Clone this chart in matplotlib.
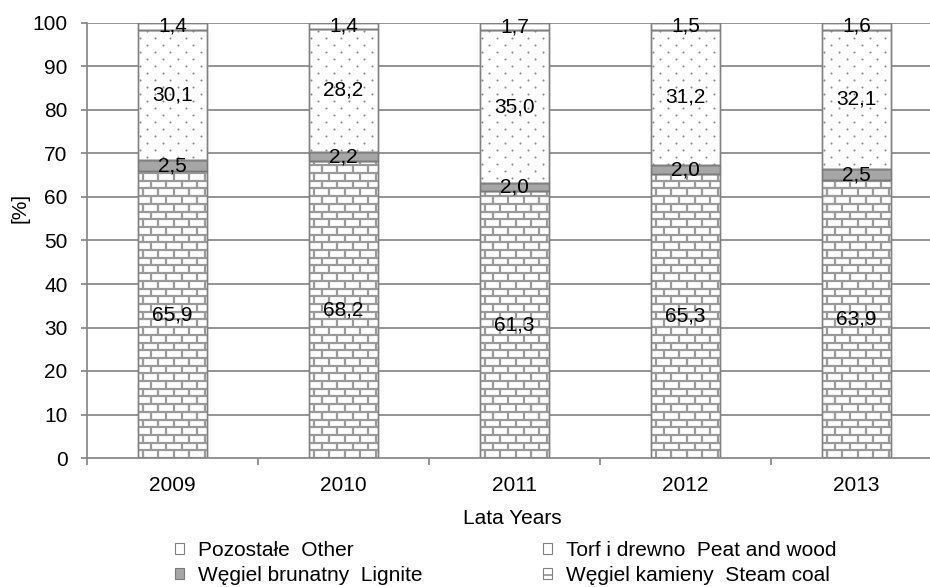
import numpy as np
import matplotlib
matplotlib.use("Agg")
import matplotlib.pyplot as plt
from matplotlib.collections import LineCollection
from matplotlib.patches import Patch

plt.rcParams['font.family'] = ['Liberation Sans', 'DejaVu Sans']

years = ["2009", "2010", "2011", "2012", "2013"]
steam_coal = [65.9, 68.2, 61.3, 65.3, 63.9]
lignite = [2.5, 2.2, 2.0, 2.0, 2.5]
peat_wood = [30.1, 28.2, 35.0, 31.2, 32.1]
other = [1.4, 1.4, 1.7, 1.5, 1.6]

labels = ["Pozostałe  Other", "Torf i drewno  Peat and wood",
          "Węgiel brunatny  Lignite", "Węgiel kamieny  Steam coal"]

FS = 15
W, H = 930, 587
fig = plt.figure(figsize=(W / 100, H / 100), dpi=100)
ax = fig.add_axes([87 / W, (H - 458) / H, 855 / W, 435 / H])
ax.set_xlim(-0.5, 4.5)
ax.set_ylim(0, 100)

grid_c = "#868686"
edge_c = "#808080"
bw = 0.4
x = np.arange(len(years))

# pixel-to-data scale for the fill patterns
px_x = 855 / 5.0
px_y = 435 / 100.0

for v in range(10, 101, 10):
    ax.axhline(v, color=grid_c, lw=1.25, zorder=0)


def brick_fill(bar):
    x0, y0 = bar.get_x(), bar.get_y()
    x1, y1 = x0 + bar.get_width(), y0 + bar.get_height()
    dy = 7.7 / px_y
    dx = 15.5 / px_x
    segs = []
    k = 0
    while k * dy < y1:
        yb = k * dy
        yt = (k + 1) * dy
        if yt > y0:
            segs.append([(x0, yb), (x1, yb)])
            off = (k % 2) * dx / 2 + dx * 0.3
            xs = x0 + off - dx
            while xs < x1:
                segs.append([(xs, yb), (xs, yt)])
                xs += dx
        k += 1
    lc = LineCollection(segs, colors="#9a9a9a", linewidths=1.6, zorder=2)
    ax.add_collection(lc)
    lc.set_clip_path(bar)


def dot_fill(bar):
    x0, y0 = bar.get_x(), bar.get_y()
    x1, y1 = x0 + bar.get_width(), y0 + bar.get_height()
    dy = 7.0 / px_y
    dx = 15.3 / px_x
    pts = []
    k = 0
    while k * dy < y1 + dy:
        yy = k * dy
        if y0 < yy < y1:
            off = (k % 2) * dx / 2 + dx * 0.1
            xs = x0 + off
            while xs < x1:
                pts.append((xs, yy))
                xs += dx
        k += 1
    pts = np.array(pts)
    sc = ax.scatter(pts[:, 0], pts[:, 1], s=2.2, color="#8a8a8a",
                    linewidths=0, zorder=2)
    sc.set_clip_path(bar)


b_steam = ax.bar(x, steam_coal, bw, color="white", edgecolor=edge_c,
                 lw=1, zorder=1)
bottom2 = np.array(steam_coal)
b_lig = ax.bar(x, lignite, bw, bottom=bottom2, color="#a6a6a6",
               edgecolor="#7a7a7a", lw=1, zorder=1)
bottom3 = bottom2 + np.array(lignite)
b_peat = ax.bar(x, peat_wood, bw, bottom=bottom3, color="white",
                edgecolor=edge_c, lw=1, zorder=1)
bottom4 = bottom3 + np.array(peat_wood)
b_oth = ax.bar(x, other, bw, bottom=bottom4, color="white",
               edgecolor=edge_c, lw=1, zorder=1)

for b in b_steam:
    brick_fill(b)
for b in b_peat:
    dot_fill(b)

# redraw outlines above the fills
for group in (b_steam, b_lig, b_peat, b_oth):
    for b in group:
        ax.add_patch(plt.Rectangle((b.get_x(), b.get_y()), b.get_width(),
                                   b.get_height(), fill=False,
                                   edgecolor=b.get_edgecolor(), lw=1,
                                   zorder=3))


def fmt(v):
    return f"{v:.1f}".replace(".", ",")


for series, bottoms in ((steam_coal, np.zeros(5)), (lignite, bottom2),
                        (peat_wood, bottom3), (other, bottom4)):
    for xi, v, b0 in zip(x, series, bottoms):
        ax.text(xi, b0 + v / 2, fmt(v), ha="center", va="center",
                fontsize=FS, color="black", zorder=5)

for s in ("top", "right"):
    ax.spines[s].set_visible(False)
for s in ("left", "bottom"):
    ax.spines[s].set_color(grid_c)
    ax.spines[s].set_linewidth(1.25)
    ax.spines[s].set_zorder(4)

ax.set_yticks(range(0, 101, 10))
ax.tick_params(axis="y", direction="out", length=4, width=1.25,
               color=grid_c, labelsize=FS, pad=10)
ax.set_xticks(np.arange(-0.5, 5.0, 1.0))
ax.set_xticklabels([])
ax.tick_params(axis="x", which="major", direction="out", length=5,
               width=1.25, color=grid_c)
ax.set_xticks(x, minor=True)
ax.set_xticklabels(years, minor=True)
ax.tick_params(axis="x", which="minor", length=0, labelsize=FS, pad=13)

fig.text(20 / W, 1 - 208 / H, "[%]", rotation=90, ha="center",
         va="center", fontsize=FS)
fig.text(512 / W, 1 - 519 / H, "Lata Years", ha="center", va="center",
         fontsize=FS)

handles = [
    Patch(facecolor="white", edgecolor=edge_c, lw=0.8),
    Patch(facecolor="#a6a6a6", edgecolor="#7a7a7a", lw=0.8),
    Patch(facecolor="white", edgecolor=edge_c, lw=0.8, hatch="."),
    Patch(facecolor="white", edgecolor=edge_c, lw=0.8, hatch="-"),
]
leg_labels = [labels[0], labels[2], labels[1], labels[3]]
fig.legend(handles, leg_labels, ncol=2, loc="center left",
           bbox_to_anchor=(175 / W, 1 - 563 / H), frameon=False,
           fontsize=FS, handlelength=0.43, handleheight=0.43,
           handletextpad=0.67, columnspacing=5.8, labelspacing=0.28,
           borderpad=0, borderaxespad=0)

fig.savefig("out.png", dpi=100)
